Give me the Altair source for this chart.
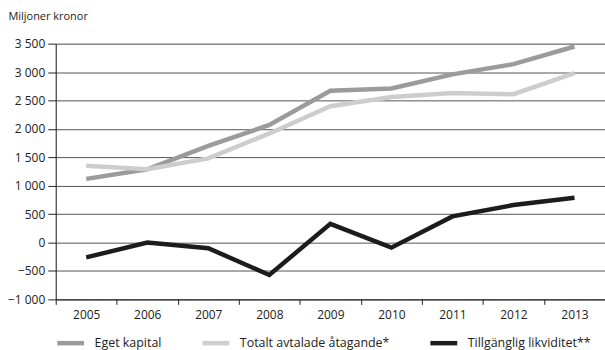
import altair as alt
import pandas as pd

years = ["2005", "2006", "2007", "2008", "2009", "2010", "2011", "2012", "2013"]
eget_kapital = [1120, 1290, 1700, 2070, 2670, 2710, 2960, 3140, 3450]
totalt_avtalade = [1350, 1290, 1480, 1920, 2400, 2560, 2630, 2610, 2980]
tillganglig_likviditet = [-260, 0, -100, -570, 330, -90, 460, 660, 790]

series_names = ["Eget kapital", "Totalt avtalade åtagande*", "Tillgänglig likviditet**"]
series_colors = ["#9b9b9b", "#cdcdcd", "#1c1c1c"]
y_ticks = [-1000, -500, 0, 500, 1000, 1500, 2000, 2500, 3000, 3500]

rows = []
for name, vals in zip(series_names, [eget_kapital, totalt_avtalade, tillganglig_likviditet]):
    for i, (yr, v) in enumerate(zip(years, vals)):
        rows.append({"year": yr, "value": v, "series": name, "order": series_names.index(name)})
df = pd.DataFrame(rows)

FONT = "Open Sans"

chart = alt.Chart(df).mark_line(strokeWidth=4.5, strokeJoin="miter", strokeCap="butt").encode(
    x=alt.X(
        "year:O",
        bandPosition=0.5,
        scale=alt.Scale(type="band", paddingInner=0, paddingOuter=0),
        axis=alt.Axis(
            title=None, labelAngle=0, tickBand="extent", grid=False,
            tickSize=5, labelPadding=5, labelFontSize=12, labelColor="#222",
            domainColor="#222", tickColor="#222", labelFont=FONT,
        ),
    ),
    y=alt.Y(
        "value:Q",
        scale=alt.Scale(domain=[-1000, 3500], nice=False, zero=False),
        axis=alt.Axis(
            values=y_ticks,
            labelExpr="replace(format(datum.value, ','), ',', ' ')",
            title="Miljoner kronor", titleAngle=0, titleAlign="left",
            titleBaseline="alphabetic", titleX=-48, titleY=-24,
            titleFontSize=11, titleFontWeight="normal", titleFont=FONT, titleColor="#222",
            tickSize=8, labelPadding=3, labelFontSize=12, labelColor="#222", labelFont=FONT,
            domainColor="#222", tickColor="#222", gridColor="#555", gridWidth=1,
        ),
    ),
    color=alt.Color(
        "series:N",
        scale=alt.Scale(domain=series_names, range=series_colors),
        legend=alt.Legend(
            title=None, orient="none", direction="horizontal",
            legendX=-1, legendY=285, symbolType="stroke", symbolSize=729,
            symbolStrokeWidth=4.5, labelFontSize=12.5, labelFont=FONT, labelColor="#222",
            labelOffset=8, columnPadding=31, labelLimit=300,
        ),
    ),
    order=alt.Order("order:Q"),
    detail="series:N",
).properties(
    width=552,
    height=257,
    autosize=alt.AutoSizeParams(type="none"),
    padding={"left": 56, "top": 43, "right": 0, "bottom": 50},
).configure_view(stroke=None).configure(font=FONT)

chart.save("out.html", embed_options={"renderer": "svg", "actions": False})
